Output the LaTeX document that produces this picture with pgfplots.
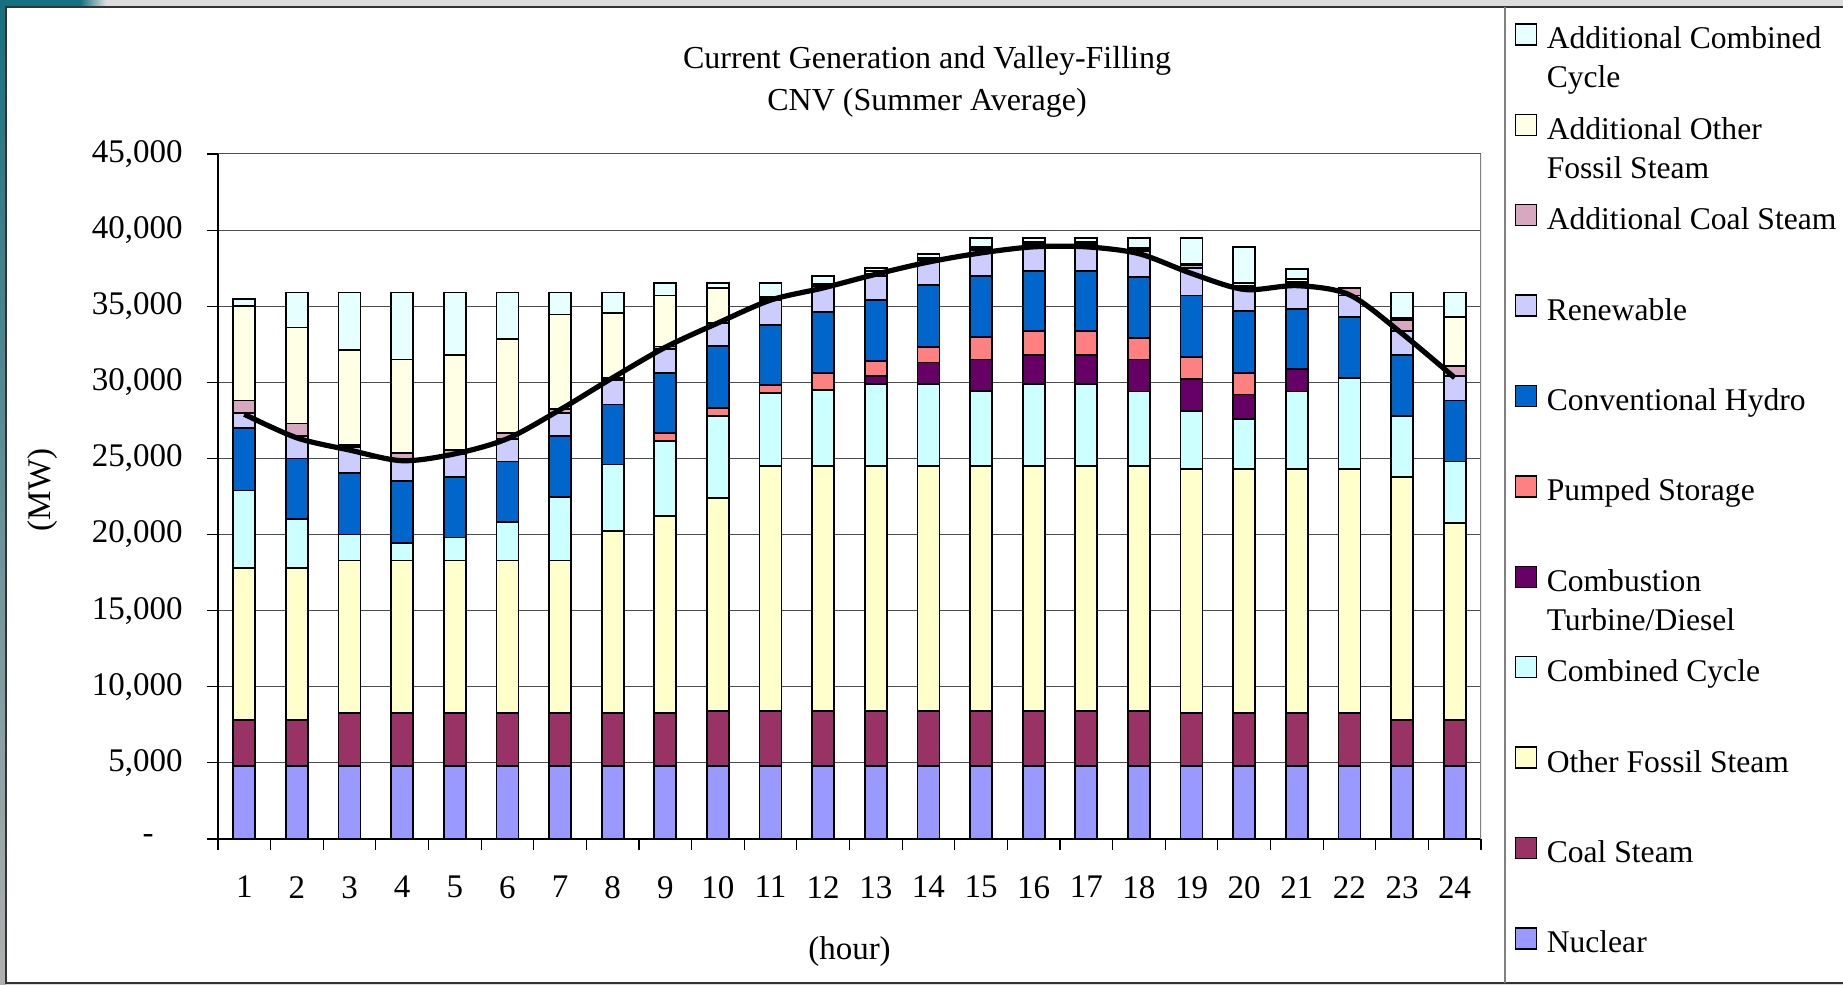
\documentclass[border=0pt]{standalone}
\usepackage{fontspec}
\setmainfont{Liberation Serif}
\usepackage{pgfplots}
\pgfplotsset{compat=1.18}
\usepackage{pgfplotstable}

\definecolor{cNuc}{HTML}{9999FF}
\definecolor{cCoal}{HTML}{993366}
\definecolor{cOFS}{HTML}{FFFFCC}
\definecolor{cCC}{HTML}{CCFFFF}
\definecolor{cCT}{HTML}{660066}
\definecolor{cPS}{HTML}{FF8080}
\definecolor{cHy}{HTML}{0066CC}
\definecolor{cRen}{HTML}{CCCCFF}
\definecolor{cAC}{HTML}{D8A8C0}
\definecolor{cAOFS}{HTML}{FFFFE6}
\definecolor{cACC}{HTML}{E6FFFF}
\definecolor{teal1}{HTML}{17707F}
\definecolor{bgg}{HTML}{DCDCDC}

\pgfplotstableread{
h N C OFS CC CT PS HY REN AC AOFS ACC
1 4800 3000 10000 5100 0 0 4100 1000 800 6200 500
2 4800 3000 10000 3200 0 0 4000 1500 800 6300 2300
3 4800 3500 10000 1700 0 0 4050 1700 150 6200 3800
4 4800 3500 10000 1150 0 0 4050 1500 350 6150 4400
5 4800 3500 10000 1500 0 0 4000 1500 250 6250 4100
6 4800 3500 10000 2550 0 0 3950 1500 350 6200 3050
7 4800 3500 10000 4150 0 0 4000 1550 250 6200 1450
8 4800 3500 11950 4350 0 0 3950 1600 150 4250 1350
9 4800 3500 12900 4950 0 500 3950 1600 150 3350 800
10 4800 3600 14000 5400 0 500 4100 1500 0 2300 300
11 4800 3600 16100 4800 0 500 3950 1650 100 100 900
12 4800 3600 16100 5000 0 1100 4000 1700 100 50 550
13 4800 3600 16100 5400 500 1000 4000 1600 150 150 200
14 4800 3600 16100 5400 1400 1000 4100 1600 100 50 300
15 4800 3600 16100 4950 2050 1500 4000 1700 100 100 600
16 4800 3600 16100 5400 1900 1550 3950 1700 100 100 300
17 4800 3600 16100 5400 1900 1550 3950 1700 100 100 300
18 4800 3600 16100 4900 2100 1400 4000 1700 100 100 700
19 4800 3500 16000 3800 2100 1450 4050 1800 200 50 1750
20 4800 3500 16000 3300 1600 1400 4100 1500 150 150 2400
21 4800 3500 16000 5100 1500 0 3900 1700 100 200 650
22 4800 3500 16000 6000 0 0 4000 1400 500 0 0
23 4800 3000 16000 4000 0 0 4000 1550 750 100 1700
24 4800 3000 12950 4050 0 0 4000 1600 650 3250 1600
}\gen

\pgfplotstableread{
h L
1 27900
2 26350
3 25550
4 24850
5 25300
6 26300
7 28200
8 30300
9 32300
10 33900
11 35400
12 36200
13 37100
14 37900
15 38500
16 38900
17 38900
18 38450
19 37150
20 36100
21 36350
22 35750
23 33200
24 30300
}\load

\pgfplotsset{sq/.style={legend image code/.code={\draw[##1,draw=black,line width=0.7pt] (0pt,2pt) rectangle (10.5pt,12.5pt);}}}

\begin{document}
\begin{tikzpicture}
\useasboundingbox (0,0) rectangle (921.5pt,492.5pt);
\fill[bgg] (0,0) rectangle (921.5pt,492.5pt);
\shade[top color=teal1, bottom color=bgg!80!black] (0,0) rectangle (3pt,492.5pt);
\fill[teal1] (0,489pt) rectangle (40pt,492.5pt);
\shade[left color=teal1, right color=bgg] (40pt,489pt) rectangle (53pt,492.5pt);
\filldraw[fill=white, draw=black!80, line width=0.8pt] (3pt,1pt) rectangle (925pt,489pt);
\draw[black!50, line width=0.7pt] (752.5pt,1pt) -- (752.5pt,489pt);

\begin{axis}[
  at={(109pt,73pt)}, anchor=south west, scale only axis,
  width=631.5pt, height=342.5pt,
  ybar stacked, bar width=11pt,
  xmin=0.5, xmax=24.5, ymin=0, ymax=45000,
  enlargelimits=false,
  scaled y ticks=false,
  xtick={0.5,1.5,...,24.5},
  xticklabels={1,2,3,4,5,6,7,8,9,10,11,12,13,14,15,16,17,18,19,20,21,22,23,24,{}},
  ytick={0,5000,...,45000},
  yticklabels={{\makebox[20pt][l]{-}},{5,000},{10,000},{15,000},{20,000},{25,000},{30,000},{35,000},{40,000},{45,000}},
  ymajorgrids, grid style={black!70, line width=0.5pt},
  axis x line*=bottom, axis y line*=left,
  axis line style={-, black, line width=0.7pt},
  tick align=outside, major tick length=5.5pt,
  tick style={black, line width=0.6pt},
  tick label style={font=\fontsize{16.5}{19}\selectfont},
  yticklabel style={anchor=east, inner sep=0pt, xshift=-12pt},
  xticklabel style={anchor=north, inner sep=0pt, yshift=-12.9pt, xshift=13.156pt},
  title={Current Generation and Valley-Filling\\CNV (Summer Average)},
  title style={at={(axis description cs:0.5614,1.0876)}, anchor=center, align=center, inner sep=0pt, font=\fontsize{16}{21}\selectfont},
  xlabel={(hour)},
  xlabel style={at={(axis description cs:0.5,-0.165)}, anchor=center, inner sep=0pt, font=\fontsize{16.5}{19}\selectfont},
  ylabel={(MW)},
  ylabel style={at={(axis description cs:-0.1386,0.5095)}, anchor=center, inner sep=0pt, font=\fontsize{16.5}{19}\selectfont},
  legend cell align=left,
  reverse legend,
  legend style={at={(axis description cs:1.0269,1.2193)}, anchor=north west, draw=none, fill=none,
    inner sep=0pt, outer sep=0pt, row sep=0pt, column sep=4.7pt,
    font=\fontsize{15.8}{19.5}\selectfont,
    nodes={anchor=base west, inner sep=0pt, text height=22.6pt, text depth=22.6pt}},
]
\addplot[fill=cNuc, draw=black, line width=0.9pt, sq] table[x=h,y=N]{\gen};
\addlegendentry{\parbox[t]{160pt}{Nuclear}}
\addplot[fill=cCoal, draw=black, line width=0.9pt, sq] table[x=h,y=C]{\gen};
\addlegendentry{\parbox[t]{160pt}{Coal Steam}}
\addplot[fill=cOFS, draw=black, line width=0.9pt, sq] table[x=h,y=OFS]{\gen};
\addlegendentry{\parbox[t]{160pt}{Other Fossil Steam}}
\addplot[fill=cCC, draw=black, line width=0.9pt, sq] table[x=h,y=CC]{\gen};
\addlegendentry{\parbox[t]{160pt}{Combined Cycle}}
\addplot[fill=cCT, draw=black, line width=0.9pt, sq] table[x=h,y=CT]{\gen};
\addlegendentry{\parbox[t]{160pt}{Combustion\\Turbine/Diesel}}
\addplot[fill=cPS, draw=black, line width=0.9pt, sq] table[x=h,y=PS]{\gen};
\addlegendentry{\parbox[t]{160pt}{Pumped Storage}}
\addplot[fill=cHy, draw=black, line width=0.9pt, sq] table[x=h,y=HY]{\gen};
\addlegendentry{\parbox[t]{160pt}{Conventional Hydro}}
\addplot[fill=cRen, draw=black, line width=0.9pt, sq] table[x=h,y=REN]{\gen};
\addlegendentry{\parbox[t]{160pt}{Renewable}}
\addplot[fill=cAC, draw=black, line width=0.9pt, sq] table[x=h,y=AC]{\gen};
\addlegendentry{\parbox[t]{160pt}{Additional Coal Steam}}
\addplot[fill=cAOFS, draw=black, line width=0.9pt, sq] table[x=h,y=AOFS]{\gen};
\addlegendentry{\parbox[t]{160pt}{Additional Other\\Fossil Steam}}
\addplot[fill=cACC, draw=black, line width=0.9pt, sq] table[x=h,y=ACC]{\gen};
\addlegendentry{\parbox[t]{160pt}{Additional Combined\\Cycle}}
\draw[black!50, line width=0.7pt] (rel axis cs:1,0) -- (rel axis cs:1,1);
\end{axis}

\begin{axis}[
  at={(109pt,73pt)}, anchor=south west, scale only axis,
  width=631.5pt, height=342.5pt,
  xmin=0.5, xmax=24.5, ymin=0, ymax=45000, hide axis,
]
\addplot[black, line width=2.6pt, smooth, no markers] table[x=h,y=L]{\load};
\end{axis}
\end{tikzpicture}
\end{document}
